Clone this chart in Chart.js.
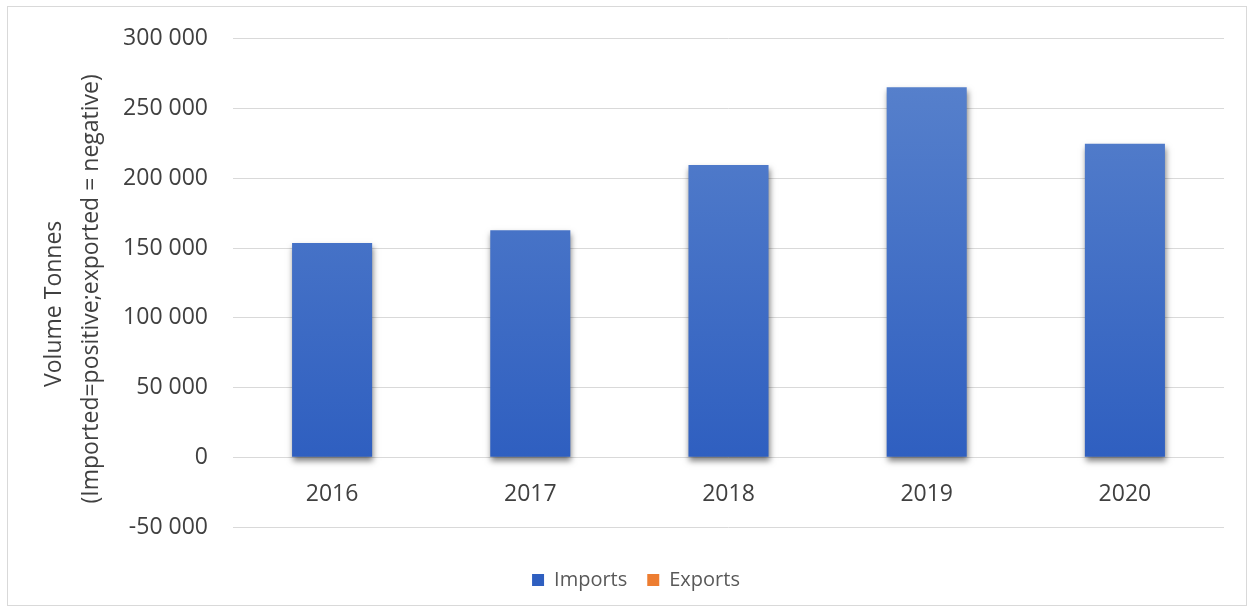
<!DOCTYPE html>
<html>
<head>
<meta charset="utf-8">
<script src="https://cdn.jsdelivr.net/npm/chart.js@4"></script>
<style>
  body { margin: 0; background: #fff; overflow: hidden; }
  #frame { position: absolute; left: 7px; top: 6px; width: 1240px; height: 600px; border: 1px solid #d9d9d9; box-sizing: border-box; }
  #chart { position: absolute; left: 0; top: 0; }
</style>
</head>
<body>
<div id="frame"></div>
<canvas id="chart" width="1250" height="610"></canvas>
<script>
// values
const years = ['2016', '2017', '2018', '2019', '2020'];
const imports = [153600, 162700, 209500, 265200, 224700];
const exports = [0, 0, 0, 0, 0];

function spaced(v) {
    return String(Math.abs(v)).replace(/\B(?=(\d{3})+(?!\d))/g, ' ').replace(/^/, v < 0 ? '-' : '');
}

function blueGradient(context) {
    const chart = context.chart;
    if (!chart.chartArea) return '#4472c4';
    const y = chart.scales.y;
    const g = chart.ctx.createLinearGradient(0, y.getPixelForValue(300000), 0, y.getPixelForValue(0));
    g.addColorStop(0, '#5b84cd');
    g.addColorStop(1, '#2f5fc0');
    return g;
}

// soft drop shadow under the bars
const shadowPlugin = {
    id: 'barShadow',
    beforeDatasetsDraw(chart) {
        const ctx = chart.ctx;
        ctx.save();
        ctx.shadowColor = 'rgba(0,0,0,0.5)';
        ctx.shadowBlur = 6;
        ctx.shadowOffsetX = 1;
        ctx.shadowOffsetY = 4;
    },
    afterDatasetsDraw(chart) {
        chart.ctx.restore();
    }
};

// legend sits a bit right of the canvas centre
const legendShift = {
    id: 'legendShift',
    afterLayout(chart) {
        chart.legend.left += 38;
    }
};

const tickFont = { family: 'Open Sans', size: 23 };

new Chart(document.getElementById('chart'), {
    type: 'bar',
    data: {
        labels: years,
        datasets: [{
            label: 'Imports',
            data: imports,
            backgroundColor: blueGradient,
            borderWidth: 0,
            grouped: false,
            barPercentage: 0.404,
            categoryPercentage: 1.0
        }, {
            label: 'Exports',
            data: exports,
            backgroundColor: '#ed7d31',
            borderWidth: 0,
            grouped: false,
            barPercentage: 0.404,
            categoryPercentage: 1.0
        }]
    },
    options: {
        responsive: false,
        animation: false,
        layout: { padding: { left: 10, right: 26, top: 23, bottom: 10 } },
        plugins: {
            tooltip: { enabled: false },
            legend: {
                position: 'bottom',
                title: {
                    display: true,
                    text: ' ',
                    font: { size: 10, lineHeight: 1 },
                    padding: { top: 13, bottom: 0 }
                },
                labels: {
                    font: { family: 'Open Sans', size: 20 },
                    color: '#595959',
                    boxWidth: 12,
                    boxHeight: 12,
                    padding: 20
                }
            }
        },
        scales: {
            x: {
                position: { y: 0 },
                grid: { display: false },
                border: { display: false },
                ticks: {
                    font: tickFont,
                    color: '#404040',
                    padding: 15
                }
            },
            y: {
                min: -50000,
                max: 300000,
                afterFit: s => { s.width = 223; },
                ticks: {
                    stepSize: 50000,
                    font: tickFont,
                    color: '#404040',
                    padding: 25,
                    callback: v => spaced(v)
                },
                grid: { color: '#d9d9d9', drawTicks: false, lineWidth: 1 },
                border: { display: false },
                title: {
                    display: true,
                    // trailing spaces nudge the rotated lines down a little, as in the original
                    text: ['Volume Tonnes       ', '(Imported=positive;exported = negative)  '],
                    font: { family: 'Open Sans', size: 23, lineHeight: 1.6 },
                    color: '#404040',
                    padding: { top: 26, bottom: 0 }
                }
            }
        }
    },
    plugins: [shadowPlugin, legendShift]
});
</script>
</body>
</html>
